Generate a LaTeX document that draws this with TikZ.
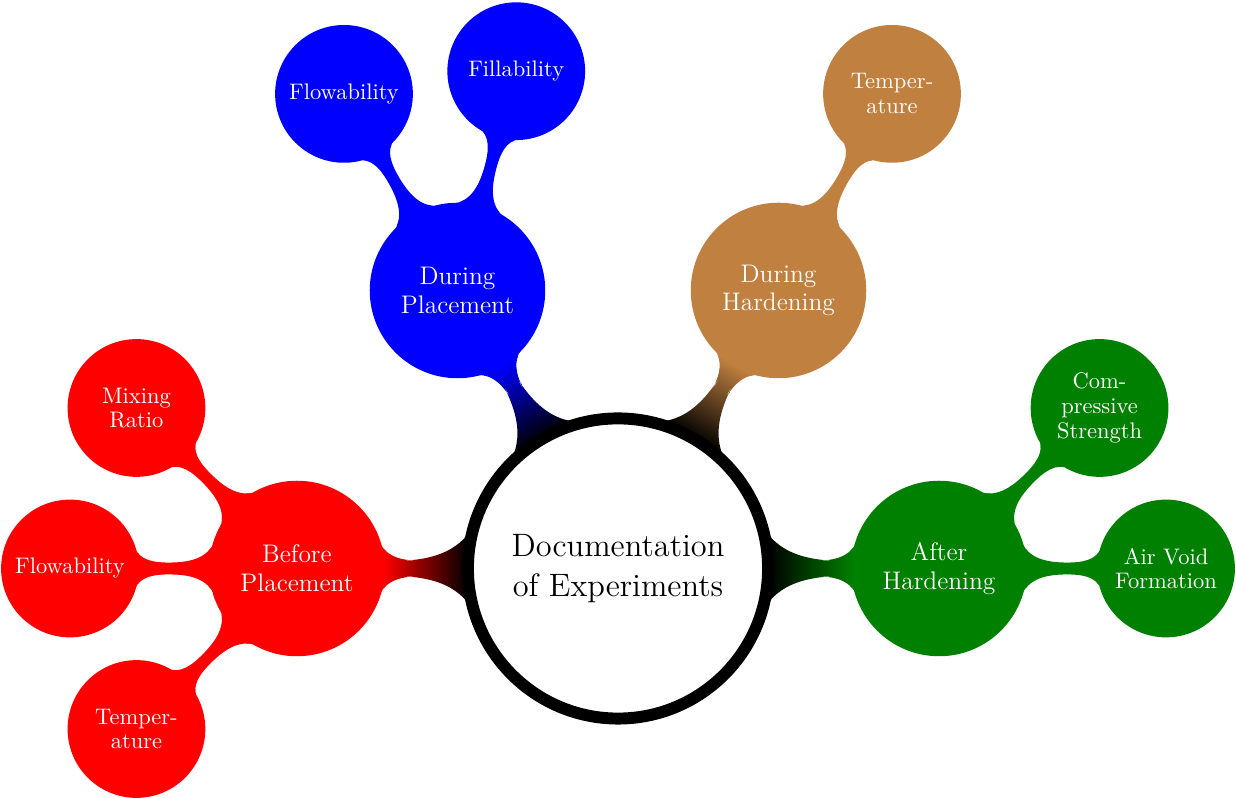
\documentclass[tikz,border=0pt]{standalone}
\usetikzlibrary{mindmap,calc,backgrounds}
\begin{document}
\begin{tikzpicture}[mindmap,
  rootnode/.style={concept, concept color=black, fill=white, draw=black, text=black,
    line width=5.3pt, minimum size=4.69cm, text width=, align=center, inner sep=0pt, font=\Large},
  topicnode/.style={concept, text=white, minimum size=2.70cm, text width=, align=center,
    inner sep=0pt, font=\fontsize{11.3}{12.8}\selectfont},
  leafnode/.style={concept, text=white, minimum size=2.11cm, text width=, align=center,
    inner sep=0pt, font=\fontsize{10}{11}\selectfont},
  bar/.style 2 args={circle connection bar switch color=from (#1) to (#2)},
]
\useasboundingbox (0,0) rectangle (19.3125,12.46875);

% central concept
\node[rootnode] (root) at (9.65625,3.5859) {Documentation\\of Experiments};

% first level topics
\node[topicnode, concept color=red]   (bp) at ($(root)+(180:5.016)$) {Before\\Placement};
\node[topicnode, concept color=blue]  (dp) at ($(root)+(120:5.016)$) {During\\Placement};
\node[topicnode, concept color=brown] (dh) at ($(root)+(60:5.016)$)  {During\\Hardening};
\node[topicnode, concept color=green!50!black] (ah) at ($(root)+(0:5.016)$) {After\\Hardening};

% second level items
\node[leafnode, concept color=red] (bp1) at ($(bp)+(135:3.547)$) {Mixing\\Ratio};
\node[leafnode, concept color=red] (bp2) at ($(bp)+(180:3.547)$) {Flowability};
\node[leafnode, concept color=red] (bp3) at ($(bp)+(225:3.547)$) {Temper-\\ature};
\node[leafnode, concept color=blue] (dp1) at ($(dp)+(120:3.547)$) {Flowability};
\node[leafnode, concept color=blue] (dp2) at ($(dp)+(75:3.547)$)  {Fillability};
\node[leafnode, concept color=brown] (dh1) at ($(dh)+(60:3.547)$) {Temper-\\ature};
\node[leafnode, concept color=green!50!black] (ah1) at ($(ah)+(45:3.547)$) {Com-\\pressive\\Strength};
\node[leafnode, concept color=green!50!black] (ah2) at ($(ah)+(0:3.547)$)  {Air Void\\Formation};

% connection bars behind the circles
\begin{scope}[on background layer]
  \path (root) to[bar={black}{red}]   (bp);
  \path (root) to[bar={black}{blue}]  (dp);
  \path (root) to[bar={black}{brown}] (dh);
  \path (root) to[bar={black}{green!50!black}] (ah);
  \path (bp) to[bar={red}{red}] (bp1);
  \path (bp) to[bar={red}{red}] (bp2);
  \path (bp) to[bar={red}{red}] (bp3);
  \path (dp) to[bar={blue}{blue}] (dp1);
  \path (dp) to[bar={blue}{blue}] (dp2);
  \path (dh) to[bar={brown}{brown}] (dh1);
  \path (ah) to[bar={green!50!black}{green!50!black}] (ah1);
  \path (ah) to[bar={green!50!black}{green!50!black}] (ah2);
\end{scope}
\end{tikzpicture}
\end{document}
